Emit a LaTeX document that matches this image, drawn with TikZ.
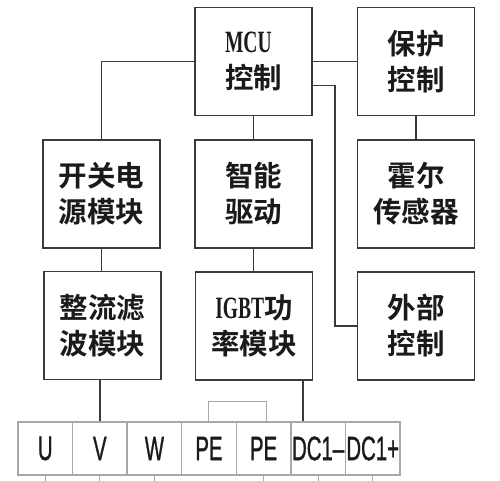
\documentclass[tikz,border=0pt]{standalone}
\usepackage{fontspec}
\usepackage{graphicx}
\newfontfamily\cjk{Noto Sans CJK SC Bold}
\newfontfamily\latn{Liberation Serif Bold}
\newfontfamily\term{Liberation Sans}[FakeBold=1.2]
\newcommand{\lat}[1]{\scalebox{0.63}[1]{\latn\fontsize{31}{36}\selectfont #1}}
\newcommand{\tlab}[1]{\scalebox{0.6}[1]{\term\fontsize{34}{36}\selectfont #1}}
\definecolor{boxline}{HTML}{3A3A3A}
\definecolor{termline}{HTML}{A8A8A8}
\definecolor{txt}{HTML}{1A1A1A}
\begin{document}
\begin{tikzpicture}[x=1pt,y=-1pt,
  blk/.style={draw=boxline,line width=1.8pt,minimum width=117pt,minimum height=108pt,inner sep=0pt,align=center,text=txt,font={\cjk\fontsize{28.5}{36}\selectfont}},
  term/.style={draw=termline,line width=1.3pt,minimum width=54.57pt,minimum height=53pt,inner sep=0pt,text=txt},
  wire/.style={draw=boxline,line width=1.8pt},
  twire/.style={draw=termline,line width=1pt}]
\useasboundingbox (0,0) rectangle (500,480);
\node[blk,align=left] (mcu) at (253.5,61.5) {\lat{MCU}\\控制};
\node[blk] (bh) at (416,61.5) {保护\\控制};
\node[blk] (kg) at (101.5,194) {开关电\\源模块};
\node[blk] (zn) at (253.5,194) {智能\\驱动};
\node[blk] (he) at (416,194) {霍尔\\传感器};
\node[blk] (zl) at (102.5,325.5) {整流滤\\波模块};
\node[blk] (igbt) at (254,326) {\lat{IGBT}功\\率模块};
\node[blk] (wb) at (416,326) {外部\\控制};
\foreach \i/\t in {1/U,2/V,3/W,4/PE,5/PE,6/DC1–,7/DC1+}{
  \node[term] (t\i) at ({18+54.57*(\i-0.5)},448.5) {\tlab{\t}};
}
\coordinate (bend) at (335,0);
\draw[wire] (mcu.west) -| (kg.north);
\draw[wire] (mcu.east) -- (bh.west);
\draw[wire] ([yshift=-24pt]mcu.east) -| (bend |- wb.west) -- (wb.west);
\draw[wire] (mcu.south) -- (zn.north);
\draw[wire] (bh.south) -- (he.north);
\draw[wire] (kg.south) -- (kg.south |- zl.north);
\draw[wire] (zn.south) -- (zn.south |- igbt.north);
\draw[wire] (t2.north |- zl.south) -- (t2.north);
\draw[wire] ([xshift=49pt]igbt.south) -- ([xshift=49pt]igbt.south |- t6.north);
\draw[twire] (t4.north) -- ++(0,-20) -| ([xshift=3pt]t5.north);
\foreach \i in {1,2,3,5,6,7}{
  \draw[twire] (t\i.south) -- ++(0,6);
}
\end{tikzpicture}
\end{document}
